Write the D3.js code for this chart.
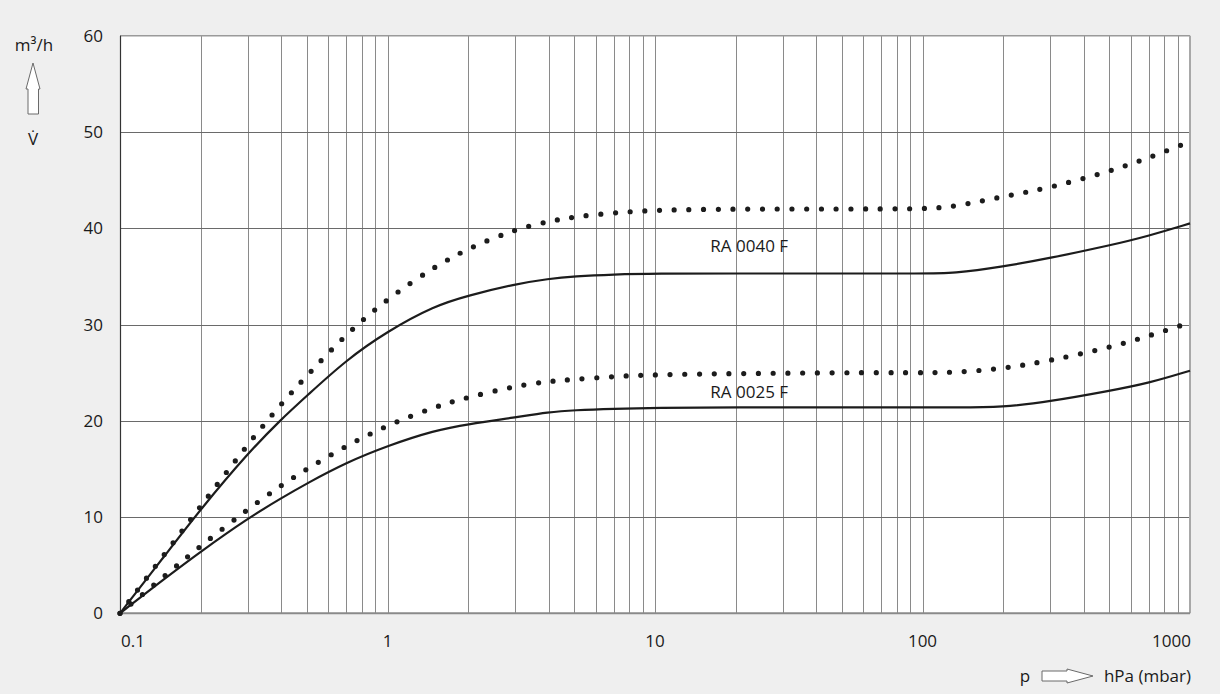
<!DOCTYPE html>
<html>
<head>
<meta charset="utf-8">
<script src="https://cdn.jsdelivr.net/npm/d3@7"></script>
<style>
  body { margin: 0; background: #efefef; }
  svg { display: block; font-family: "Open Sans", "Noto Sans", sans-serif; }
</style>
</head>
<body>
<div id="chart-area"></div>
<script>
//Data (pressure in hPa, volume flow in m3/h)
var pressure  = [0.1, 0.15, 0.2, 0.3, 0.4, 0.5, 0.7, 1, 1.5, 2, 3, 4, 5, 7, 10, 20, 50, 100, 130, 200, 300, 500, 700, 1000];
var ra40Solid = [0, 6.3, 10.8, 16.6, 20.15, 22.6, 26.3, 29.3, 31.95, 33.0, 34.2, 34.75, 35.0, 35.2, 35.3, 35.3, 35.3, 35.3, 35.3, 36.0, 36.9, 38.2, 39.2, 40.5];
var ra40Dot   = [0, 6.5, 11.1, 17.55, 21.75, 24.7, 29.0, 32.7, 36.0, 37.9, 39.9, 40.7, 41.2, 41.6, 41.9, 42.0, 42.0, 42.0, 42.2, 43.3, 44.2, 45.9, 47.3, 49.0];
var ra25Solid = [0, 3.8, 6.4, 9.85, 11.95, 13.5, 15.65, 17.4, 19.0, 19.65, 20.35, 20.9, 21.1, 21.25, 21.35, 21.4, 21.4, 21.4, 21.4, 21.4, 22.0, 23.1, 23.9, 25.2];
var ra25Dot   = [0, 4.1, 7.0, 10.8, 13.3, 15.0, 17.4, 19.55, 21.45, 22.45, 23.6, 24.1, 24.3, 24.6, 24.8, 24.9, 25.0, 25.0, 25.0, 25.4, 26.25, 27.6, 28.8, 30.2];

var xTicks = [0.1, 1, 10, 100, 1000];
var yTicks = [0, 10, 20, 30, 40, 50, 60];
var curveLabels = [
    { text: "RA 0040 F", p: 16.1, v: 37.55 },
    { text: "RA 0025 F", p: 16.1, v: 22.4 }
];

//Set Chart Area (plotTop, since "top" is taken by window.top)
var width = 1220,
    height = 694,
    plotLeft = 120,
    plotRight = 1190,
    plotTop = 35.7,
    plotBottom = 613.3;

var svg = d3.select("#chart-area").append("svg")
    .attr("width", width)
    .attr("height", height);

var xScale = d3.scaleLog()
    .domain([0.1, 1000])
    .range([plotLeft, plotRight]);

var yScale = d3.scaleLinear()
    .domain([0, 60])
    .range([plotBottom, plotTop]);

//White plot area
svg.append("rect")
    .attr("x", plotLeft)
    .attr("y", plotTop)
    .attr("width", plotRight - plotLeft)
    .attr("height", plotBottom - plotTop)
    .attr("fill", "#fff");

//Minor log grid (2..9 of every decade) plus decades
var minor = [];
[0.1, 1, 10, 100].forEach(function(d) {
    for (var i = 2; i <= 9; i++) minor.push(d * i);
});
minor = minor.concat([1, 10, 100]);

svg.append("g")
    .selectAll("line")
    .data(minor)
    .enter()
    .append("line")
    .attr("x1", function(d) { return Math.round(xScale(d)) + 0.5; })
    .attr("x2", function(d) { return Math.round(xScale(d)) + 0.5; })
    .attr("y1", plotTop)
    .attr("y2", plotBottom)
    .attr("stroke", "#8a8a8a")
    .attr("stroke-width", 1);

//Horizontal grid
svg.append("g")
    .selectAll("line")
    .data(yTicks.slice(1, 6))
    .enter()
    .append("line")
    .attr("x1", plotLeft)
    .attr("x2", plotRight)
    .attr("y1", function(d) { return Math.round(yScale(d)) + 0.5; })
    .attr("y2", function(d) { return Math.round(yScale(d)) + 0.5; })
    .attr("stroke", "#6a6a6a")
    .attr("stroke-width", 1);

//Frame
svg.append("line")
    .attr("x1", plotLeft).attr("x2", plotRight)
    .attr("y1", plotTop).attr("y2", plotTop)
    .attr("stroke", "#9a9a9a").attr("stroke-width", 1.5);
svg.append("line")
    .attr("x1", plotRight).attr("x2", plotRight)
    .attr("y1", plotTop).attr("y2", plotBottom)
    .attr("stroke", "#a8a8a8").attr("stroke-width", 2);
svg.append("line")
    .attr("x1", plotLeft).attr("x2", plotRight)
    .attr("y1", plotBottom).attr("y2", plotBottom)
    .attr("stroke", "#8a8a8a").attr("stroke-width", 2);
svg.append("line")
    .attr("x1", plotLeft + 0.5).attr("x2", plotLeft + 0.5)
    .attr("y1", plotTop).attr("y2", plotBottom)
    .attr("stroke", "#333").attr("stroke-width", 1.2);

//Curves - basis smooths out the small reading errors
var line = d3.line()
    .x(function(d) { return xScale(d[0]); })
    .y(function(d) { return yScale(d[1]); })
    .curve(d3.curveBasis);

var series = [
    { values: ra40Solid, dotted: false },
    { values: ra40Dot, dotted: true },
    { values: ra25Solid, dotted: false },
    { values: ra25Dot, dotted: true }
];

svg.append("g")
    .selectAll("path")
    .data(series)
    .enter()
    .append("path")
    .attr("d", function(s) { return line(d3.zip(pressure, s.values)); })
    .attr("fill", "none")
    .attr("stroke", "#1c1c1c")
    .attr("stroke-width", function(s) { return s.dotted ? 5.2 : 2.2; })
    .attr("stroke-linecap", function(s) { return s.dotted ? "round" : "butt"; })
    .attr("stroke-dasharray", function(s) { return s.dotted ? "0 14.7" : null; });

//Curve names
svg.selectAll(".clabel")
    .data(curveLabels)
    .enter()
    .append("text")
    .attr("class", "clabel")
    .attr("x", function(d) { return xScale(d.p); })
    .attr("y", function(d) { return yScale(d.v); })
    .style("font-size", "17px")
    .style("fill", "#1a1a1a")
    .text(function(d) { return d.text; });

//Y tick labels
svg.selectAll(".ylab")
    .data(yTicks)
    .enter()
    .append("text")
    .attr("class", "ylab")
    .attr("x", 103)
    .attr("y", function(d) { return yScale(d) + 6; })
    .attr("text-anchor", "end")
    .style("font-size", "17px")
    .style("fill", "#1a1a1a")
    .text(function(d) { return d; });

//X tick labels (first left aligned, last right aligned)
svg.selectAll(".xlab")
    .data(xTicks)
    .enter()
    .append("text")
    .attr("class", "xlab")
    .attr("x", function(d, i) { return xScale(d) + (i === 0 || i === xTicks.length - 1 ? 1 : 0); })
    .attr("y", 646.5)
    .attr("text-anchor", function(d, i) { return i === 0 ? "start" : (i === xTicks.length - 1 ? "end" : "middle"); })
    .style("font-size", "17px")
    .style("fill", "#1a1a1a")
    .text(function(d) { return d; });

//Y axis unit + arrow
svg.append("text")
    .attr("x", 34).attr("y", 51)
    .attr("text-anchor", "middle")
    .style("font-size", "17px")
    .style("fill", "#1a1a1a")
    .text("m³/h");
svg.append("path")
    .attr("d", "M33,63 L40,89 L38.5,89 L38.5,114 L28,114 L28,89 L26,89 Z")
    .attr("fill", "#fff")
    .attr("stroke", "#6a6a6a")
    .attr("stroke-width", 1);
svg.append("text")
    .attr("x", 33).attr("y", 145)
    .attr("text-anchor", "middle")
    .style("font-size", "17px")
    .style("fill", "#1a1a1a")
    .text("V\u0307");

//X axis unit + arrow
svg.append("text")
    .attr("x", 1025).attr("y", 682)
    .attr("text-anchor", "middle")
    .style("font-size", "17px")
    .style("fill", "#1a1a1a")
    .text("p");
svg.append("path")
    .attr("d", "M1042,671 L1067,671 L1067,669 L1093,676 L1067,683 L1067,681 L1042,681 Z")
    .attr("fill", "#fff")
    .attr("stroke", "#6a6a6a")
    .attr("stroke-width", 1);
svg.append("text")
    .attr("x", 1191).attr("y", 682)
    .attr("text-anchor", "end")
    .style("font-size", "17px")
    .style("fill", "#1a1a1a")
    .text("hPa (mbar)");
</script>
</body>
</html>
